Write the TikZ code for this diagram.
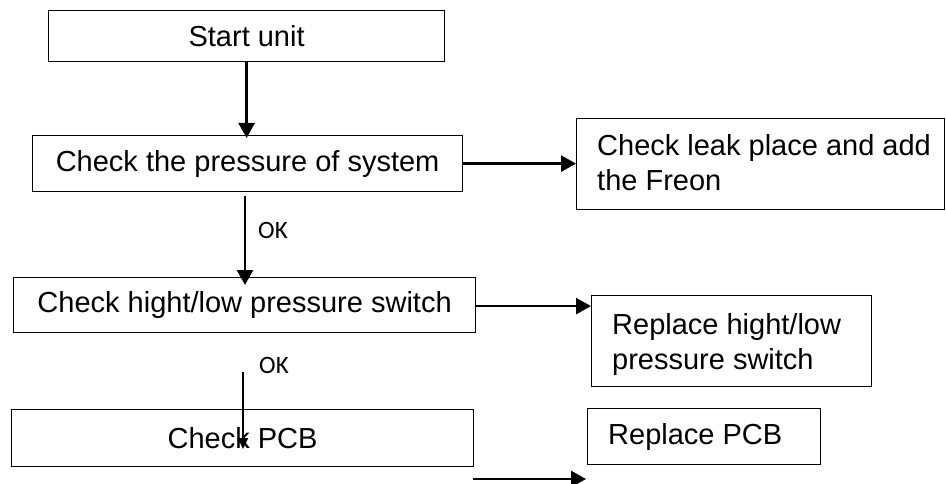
\documentclass[tikz,border=0pt]{standalone}
\usepackage{fontspec}
\setmainfont{Liberation Sans}
\newfontfamily\okfont{Carlito}
\usetikzlibrary{arrows.meta}
\begin{document}
\begin{tikzpicture}[x=1pt,y=-1pt,
  box/.style={draw, line width=1.2pt, inner sep=0pt, anchor=north west, font=\fontsize{29}{35}\selectfont},
  txt/.style={inner sep=0pt, anchor=west, align=left, font=\fontsize{29}{35}\selectfont},
  oklbl/.style={inner sep=0pt, font=\okfont\fontsize{25}{30}\selectfont},
  flow/.style={line width=2.6pt, -{Triangle[length=15pt,width=16pt]}},
  thinflow/.style={line width=1.7pt, -{Triangle[length=11pt,width=10pt]}}]
\useasboundingbox (0,0) rectangle (946,484);
% boxes
\node[box, minimum width=396pt, minimum height=51pt] (b1) at (48,10) {Start unit};
\node[box, minimum width=430pt, minimum height=56pt] (b2) at (32,135) {Check the pressure of system};
\node[box, minimum width=368pt, minimum height=91pt] (b3) at (576,118) {};
\node[txt] (t3) at ([xshift=21pt,yshift=1pt]b3.west) {Check leak place and add\\the Freon};
\node[box, minimum width=462pt, minimum height=55pt] (b4) at (13,277) {Check hight/low pressure switch};
\node[box, minimum width=280pt, minimum height=91pt] (b5) at (591,295) {};
\node[txt] (t5) at ([xshift=21pt,yshift=-3pt]b5.west) {Replace hight/low\\pressure switch};
\node[box, minimum width=462pt, minimum height=57pt] (b6) at (11,409) {Check PCB};
\node[box, minimum width=233pt, minimum height=56pt] (b7) at (587,408) {};
\node[txt] (t7) at ([xshift=21pt]b7.west) {Replace PCB};
% labels
\node[oklbl] (ok1) at (273,230) {OK};
\node[oklbl] (ok2) at (274,365) {OK};
% free ends
\coordinate (c3s) at (245,196);
\coordinate (c3e) at (245,285);
\coordinate (c5s) at (243,372);
\coordinate (c5e) at (243,449);
\coordinate (c6s) at (473,479);
\coordinate (c6e) at (586,479);
% connectors
\draw[flow] (b1.south) -- ([yshift=-3pt]b1.south |- b2.north);
\draw[flow] (b2.east) -- (b2.east -| b3.west);
\draw[flow] (c3s) -- (c3e);
\draw[flow] ([yshift=-1pt]b4.east) -- ([yshift=-1pt]b4.east -| b5.west);
\draw[thinflow] (c5s) -- (c5e);
\draw[flow] (c6s) -- (c6e);
\end{tikzpicture}
\end{document}
